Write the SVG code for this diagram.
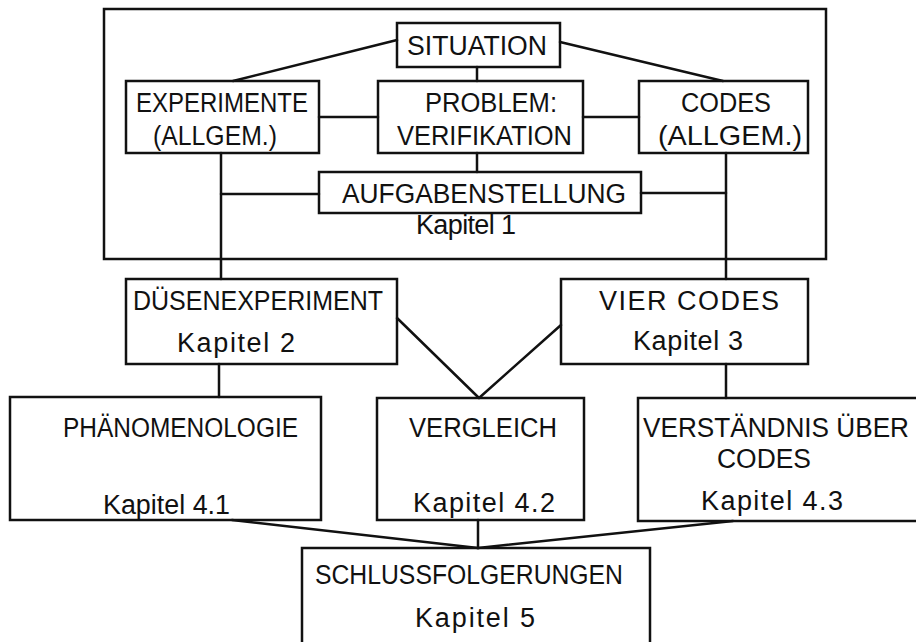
<svg xmlns="http://www.w3.org/2000/svg" width="916" height="642" viewBox="0 0 916 642">
<style>
.bx{fill:none;stroke:#111;stroke-width:2.5}
.ln{fill:none;stroke:#111;stroke-width:2.5;stroke-linecap:round}
.t{font-family:"Liberation Sans",Arial,sans-serif;font-size:27px;fill:#111}
</style>
<rect width="916" height="642" fill="#fff"/>
<g id="frame"><rect class="bx" x="104" y="9" width="722" height="250"/></g>
<g id="connectors">
<line class="ln" x1="397" y1="40" x2="233" y2="81"/>
<line class="ln" x1="560" y1="42" x2="723" y2="81"/>
<line class="ln" x1="477" y1="67" x2="477" y2="81"/>
<line class="ln" x1="319" y1="117" x2="378" y2="117"/>
<line class="ln" x1="583" y1="117" x2="639" y2="117"/>
<line class="ln" x1="477" y1="153" x2="477" y2="172"/>
<line class="ln" x1="221" y1="153" x2="221" y2="279"/>
<line class="ln" x1="221" y1="194" x2="319" y2="194"/>
<line class="ln" x1="726" y1="153" x2="726" y2="279"/>
<line class="ln" x1="641" y1="193" x2="726" y2="193"/>
<line class="ln" x1="219" y1="364" x2="219" y2="397"/>
<line class="ln" x1="726" y1="364" x2="726" y2="398"/>
<line class="ln" x1="397" y1="318" x2="479" y2="398"/>
<line class="ln" x1="561" y1="325" x2="479" y2="398"/>
<line class="ln" x1="478" y1="520" x2="478" y2="548"/>
<line class="ln" x1="232" y1="520" x2="478" y2="548"/>
<line class="ln" x1="733" y1="521" x2="478" y2="548"/>
</g>
<g id="situation"><rect class="bx" x="397" y="23" width="163" height="44"/>
<text class="t" x="407" y="55" textLength="140" lengthAdjust="spacingAndGlyphs">SITUATION</text></g>
<g id="experimente"><rect class="bx" x="126" y="81" width="193" height="72"/>
<text class="t" x="136" y="112" textLength="172" lengthAdjust="spacingAndGlyphs">EXPERIMENTE</text>
<text class="t" x="153" y="145" textLength="124" lengthAdjust="spacingAndGlyphs">(ALLGEM.)</text></g>
<g id="problem"><rect class="bx" x="378" y="81" width="205" height="72"/>
<text class="t" x="425" y="112" textLength="132" lengthAdjust="spacingAndGlyphs">PROBLEM:</text>
<text class="t" x="397" y="145" textLength="175" lengthAdjust="spacingAndGlyphs">VERIFIKATION</text></g>
<g id="codes"><rect class="bx" x="639" y="81" width="169" height="72"/>
<text class="t" x="681" y="112" textLength="90" lengthAdjust="spacingAndGlyphs">CODES</text>
<text class="t" x="658" y="145" textLength="144" lengthAdjust="spacingAndGlyphs">(ALLGEM.)</text></g>
<g id="aufgabenstellung"><rect class="bx" x="319" y="172" width="322" height="41"/>
<text class="t" x="342" y="203" textLength="284" lengthAdjust="spacingAndGlyphs">AUFGABENSTELLUNG</text></g>
<g id="kapitel1"><text class="t" x="416" y="234" textLength="100">Kapitel 1</text></g>
<g id="duesenexperiment"><rect class="bx" x="126" y="279" width="271" height="85"/>
<text class="t" x="133" y="310" textLength="250" lengthAdjust="spacingAndGlyphs">DÜSENEXPERIMENT</text>
<text class="t" x="177" y="352" textLength="118">Kapitel 2</text></g>
<g id="viercodes"><rect class="bx" x="561" y="279" width="247" height="85"/>
<text class="t" x="599" y="310" textLength="180">VIER CODES</text>
<text class="t" x="633" y="350" textLength="110">Kapitel 3</text></g>
<g id="phaenomenologie"><rect class="bx" x="10" y="397" width="311" height="123"/>
<text class="t" x="63" y="437" textLength="235" lengthAdjust="spacingAndGlyphs">PHÄNOMENOLOGIE</text>
<text class="t" x="103" y="514" textLength="127" lengthAdjust="spacingAndGlyphs">Kapitel 4.1</text></g>
<g id="vergleich"><rect class="bx" x="377" y="398" width="207" height="122"/>
<text class="t" x="409" y="437" textLength="148" lengthAdjust="spacingAndGlyphs">VERGLEICH</text>
<text class="t" x="413" y="512" textLength="142">Kapitel 4.2</text></g>
<g id="verstaendnis"><rect class="bx" x="638" y="398" width="290" height="123"/>
<text class="t" x="643" y="437" textLength="266" lengthAdjust="spacingAndGlyphs">VERSTÄNDNIS ÜBER</text>
<text class="t" x="717" y="468" textLength="94" lengthAdjust="spacingAndGlyphs">CODES</text>
<text class="t" x="701" y="510" textLength="142">Kapitel 4.3</text></g>
<g id="schlussfolgerungen"><rect class="bx" x="302" y="548" width="348" height="110"/>
<text class="t" x="315" y="584" textLength="308" lengthAdjust="spacingAndGlyphs">SCHLUSSFOLGERUNGEN</text>
<text class="t" x="415" y="627" textLength="120">Kapitel 5</text></g>
</svg>
